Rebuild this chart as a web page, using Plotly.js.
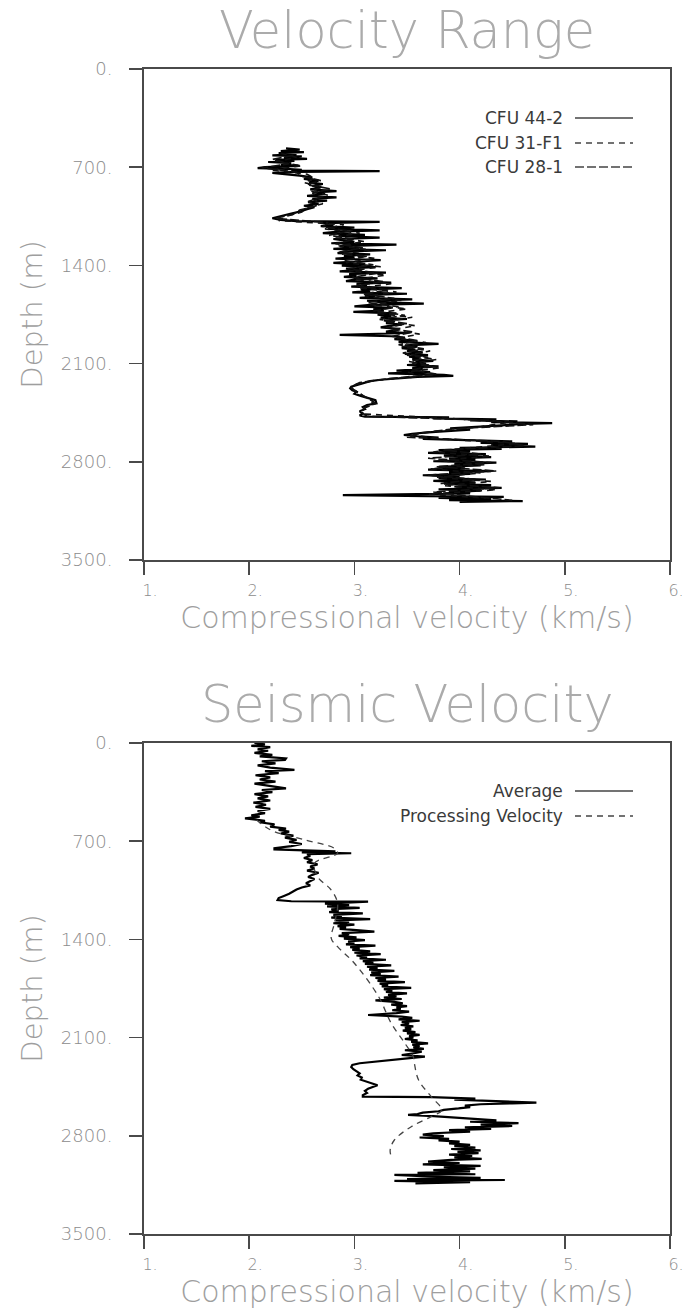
<!DOCTYPE html>
<html>
<head>
<meta charset="utf-8">
<script src="https://cdn.plot.ly/plotly-3.0.1.min.js"></script>
<style>html,body{margin:0;padding:0;background:#fff;}#chart{width:686px;height:1310px;}</style>
</head>
<body>
<div id="chart"></div>
<script>
// ---------- Data: top panel "Velocity Range" (depth m, velocity km/s) ----------
const cfu442Depth = [565,575,585,592,600,608,615,622,630,640,648,655,663,672,680,690,700,706,712,718,724,728,734,740,
 760,772,784,796,808,820,832,845,858,870,880,892,905,915,925,938,950,962,975,985,
 1000,1017,1030,1041,1055,1064,1075,1085,1090,1098,
 1110,1120,1130,1140,1150,1160,1170,1182,1192,1202,1212,1222,1232,1242,1252,1262,1272,1282,1292,1302,1312,1322,1332,1342,1352,1362,
 1372,1382,1392,1402,1412,1422,1432,1442,1452,1462,1472,1482,1492,1502,1512,1522,1532,1542,1552,1562,1572,1582,1592,1602,1612,1622,1632,1642,1652,1662,1672,1682,1692,1702,1712,1722,1732,1742,1752,1762,1772,1782,1792,1802,1812,1822,1832,1842,1852,1862,1872,1882,1895,
 1905,1915,1925,1935,1945,1960,1970,1980,1990,2000,2010,2020,2030,2040,2050,2060,2070,2080,2090,2100,2110,2120,2130,2140,2150,2160,2170,2180,2188,2195,
 2205,2215,2225,2235,2245,2255,2265,2276,2290,2300,2315,2330,2345,2360,2383,2395,2410,2425,2440,2455,2470,2478,
 2483,2490,2498,2505,2512,2518,2524,2530,
 2540,2550,2561,2570,2580,2590,2600,2609,2618,2628,2636,2645,
 2655,2665,2672,2680,2692,2700,2708,2716,
 2726,2736,2746,2756,2766,2776,2786,2796,2806,2816,2826,2836,2846,2856,2866,2876,2886,2896,2906,2916,2926,2936,2946,2956,2966,2976,2986,2996,3006,3016,3025,
 3030,3037,3044,3050,3058,3066,3074,3080,3085];
const cfu442Vel = [2.35,2.48,2.30,2.52,2.28,2.45,2.22,2.50,2.33,2.55,2.25,2.43,2.18,2.40,2.30,2.48,2.15,2.08,2.35,2.50,2.40,3.24,2.45,2.22,
 2.48,2.60,2.52,2.66,2.57,2.70,2.60,2.68,2.58,2.83,2.62,2.72,2.55,2.83,2.60,2.74,2.56,2.66,2.52,2.62,
 2.55,2.48,2.40,2.34,2.28,2.22,2.30,2.45,3.24,2.70,
 2.80,2.68,3.00,2.75,3.24,2.82,2.70,3.10,2.85,3.24,2.80,2.92,3.00,2.78,3.40,2.86,3.05,2.80,3.30,2.90,2.84,3.15,2.90,3.00,2.82,3.25,
 2.95,2.80,3.10,2.88,3.20,2.92,3.05,2.86,3.30,2.95,3.02,2.90,3.22,3.00,2.92,3.35,3.02,3.12,2.97,3.45,3.06,3.15,2.98,3.50,3.10,3.20,3.05,3.55,3.12,3.25,3.66,3.15,3.00,3.35,3.18,3.28,2.99,3.40,3.22,3.35,3.25,3.50,3.28,3.38,3.30,3.45,3.32,3.25,3.42,3.40,3.30,3.50,2.86,
 3.35,3.48,3.38,3.55,3.42,3.80,3.48,3.60,3.45,3.58,3.50,3.65,3.48,3.70,3.52,3.62,3.55,3.75,3.58,3.68,3.50,3.80,3.55,3.65,3.40,3.72,3.32,3.85,3.94,3.60,
 3.40,3.25,3.15,3.10,3.05,3.00,2.97,2.96,2.98,3.02,3.00,3.06,3.12,3.20,3.21,3.12,3.08,3.10,3.05,3.08,3.05,3.10,
 3.90,3.75,4.35,4.10,4.55,4.30,4.88,4.60,
 4.40,4.15,3.91,4.10,3.85,3.70,3.55,3.47,3.60,3.80,3.65,4.05,
 4.50,4.20,4.65,4.30,4.72,4.00,4.40,3.80,
 4.10,3.70,4.25,3.85,4.30,3.90,4.15,3.75,4.35,3.95,4.20,3.80,4.05,3.70,4.30,3.90,4.10,3.65,4.00,3.80,4.25,3.75,4.15,3.85,4.30,3.95,4.40,3.80,4.20,3.90,4.10,
 3.60,2.89,3.70,4.42,3.80,4.30,3.90,4.60,4.00];

const cfu31Depth = [600,630,660,690,720,750,780,810,840,870,
 900,930,960,990,1020,1050,1080,1110,1140,1170,
 1200,1230,1260,1290,1320,1350,1380,1410,1440,1470,
 1500,1530,1560,1590,1620,1650,1680,1710,1740,1770,
 1800,1830,1860,1890,1920,1950,1980,2010,2040,2070,
 2100,2130,2160,2190,2220,2250,2280,2310,2340,2370,
 2400,2430,2460,2490,2520,2550,2580,2610,2640,2670,
 2700,2730,2760,2790,2820,2850,2880,2910,2940,2970,
 3000,3030,3060];
const cfu31Vel = [2.30,2.45,2.25,2.50,2.20,2.55,2.62,2.52,2.70,2.58,
 2.75,2.60,2.70,2.55,2.50,2.35,2.28,2.90,2.72,3.05,
 2.80,3.10,2.85,3.15,2.88,3.20,2.92,3.25,2.95,3.30,
 3.00,3.35,3.05,3.40,3.10,3.45,3.15,3.50,3.20,3.55,
 3.28,3.58,3.35,3.62,3.40,3.68,3.45,3.72,3.50,3.78,
 3.55,3.82,3.50,3.65,3.20,3.00,2.98,3.05,3.10,3.18,
 3.12,3.08,3.10,3.90,4.45,4.20,3.80,3.52,3.90,4.55,
 4.10,3.75,4.30,3.80,4.25,3.72,4.20,3.78,4.30,3.85,
 4.35,3.70,4.25];

const cfu28Depth = [615,645,675,705,735,765,795,825,855,885,
 915,945,975,1005,1035,1065,1095,1125,1155,1185,
 1215,1245,1275,1305,1335,1365,1395,1425,1455,1485,
 1515,1545,1575,1605,1635,1665,1695,1725,1755,1785,
 1815,1845,1875,1905,1935,1965,1995,2025,2055,2085,
 2115,2145,2175,2205,2235,2265,2295,2325,2355,2385,
 2415,2445,2475,2505,2535,2565,2595,2625,2655,2685,
 2715,2745,2775,2805,2835,2865,2895,2925,2955,2985,
 3015,3045,3075];
const cfu28Vel = [2.42,2.22,2.38,2.12,2.45,2.50,2.68,2.55,2.78,2.60,
 2.68,2.56,2.64,2.48,2.42,2.25,2.75,2.70,2.95,2.76,
 3.00,2.82,3.08,2.86,3.12,2.90,3.18,2.94,3.22,2.98,
 3.28,3.02,3.32,3.08,3.38,3.12,3.42,3.18,3.48,3.24,
 3.50,3.30,3.56,3.36,3.60,3.42,3.66,3.46,3.70,3.52,
 3.74,3.55,3.78,3.35,3.05,2.97,3.00,3.08,3.15,3.20,
 3.10,3.06,3.12,4.30,4.70,3.95,3.62,3.50,4.40,4.62,
 3.85,4.20,3.70,4.30,3.78,4.35,3.70,4.15,3.82,4.38,
 3.75,4.10,4.50];

// ---------- Data: bottom panel "Seismic Velocity" ----------
const avgDepth = [0,10,20,30,45,55,70,85,95,110,121,130,145,160,175,192,200,215,230,245,260,275,290,305,323,335,350,365,380,395,410,425,440,455,470,485,500,515,525,537,545,555,565,580,596,610,620,632,645,660,675,691,705,720,735,750,758,765,772,779,786,793,805,820,835,850,865,880,895,910,925,940,955,970,985,1000,1015,1030,1045,1060,1075,1090,1105,1119,1128,1131,1138,1145,1155,1165,1175,1185,1195,1205,1215,1225,1235,1245,1255,
 1265,1275,1285,1295,1305,1315,1325,1335,1345,1355,1365,1375,1385,1395,1405,1415,1425,1435,1445,1455,1465,1475,1485,1495,1505,1515,1525,1535,1545,1555,1565,1575,1585,1595,1605,1615,1625,1635,1645,1655,1665,1675,1685,1695,1705,1715,1725,1735,1745,1755,1765,1775,1785,1795,1805,1815,1825,1835,
 1845,1855,1865,1875,1885,1895,1905,1915,1925,1939,1950,1960,1970,1980,1990,2000,2010,2020,2030,2040,2050,2060,2070,2080,2090,2100,2110,2120,2130,2141,2150,2160,2170,2180,2190,2200,2210,2224,2236,2245,2255,2265,2275,2283,2295,2310,2325,2340,2355,2370,2385,2400,2415,2430,2440,2450,2465,2480,2495,2510,2521,
 2524,2530,2535,2542,2550,2557,2563,2569,2575,2585,2595,2605,2615,2625,2635,2645,2651,2660,2670,2680,2690,2700,2710,2720,2730,2740,2750,2760,2770,2782,2792,2802,2812,2822,2832,2842,2854,2864,2874,2884,2894,2904,2914,2924,2934,2944,2954,2964,2972,2984,2994,3004,3014,3024,3034,3044,3054,3064,3074,3079,3090,3100,3108,3115,3122,3130,3139];
const avgVel = [2.05,2.15,2.02,2.20,2.08,2.18,2.05,2.22,2.10,2.35,2.34,2.12,2.25,2.08,2.20,2.43,2.15,2.28,2.06,2.20,2.10,2.25,2.05,2.18,2.35,2.12,2.22,2.05,2.18,2.08,2.20,2.04,2.16,2.06,2.20,2.08,2.15,2.02,2.10,1.96,2.05,2.15,2.10,2.24,2.20,2.35,2.28,2.38,2.30,2.42,2.34,2.45,2.38,2.50,2.40,2.24,2.24,2.55,2.82,2.50,2.97,2.55,2.58,2.52,2.60,2.55,2.65,2.58,2.62,2.55,2.66,2.60,2.56,2.62,2.58,2.54,2.58,2.50,2.45,2.42,2.38,2.33,2.28,2.27,2.40,3.13,2.80,2.72,2.95,2.74,3.05,2.78,2.85,2.76,3.08,2.80,2.88,2.78,3.15,
 2.82,2.95,2.80,3.00,2.84,2.92,2.86,3.05,3.19,2.88,2.95,2.85,3.02,2.90,3.10,2.94,3.00,2.92,3.20,2.96,3.05,2.98,3.15,3.00,3.25,3.02,3.12,3.05,3.30,3.08,3.18,3.10,3.35,3.12,3.22,3.14,3.38,3.16,3.25,3.15,3.42,3.20,3.30,3.22,3.48,3.24,3.32,3.26,3.54,3.28,3.36,3.30,3.50,3.32,3.40,3.28,3.45,3.20,
 3.38,3.46,3.35,3.50,3.40,3.44,3.36,3.52,3.40,3.13,3.45,3.55,3.42,3.62,3.45,3.52,3.44,3.56,3.48,3.54,3.46,3.58,3.50,3.62,3.52,3.56,3.48,3.60,3.54,3.70,3.55,3.62,3.56,3.66,3.48,3.64,3.58,3.45,3.67,3.55,3.42,3.25,3.10,3.05,2.98,2.97,2.99,3.02,3.05,3.03,3.07,3.06,3.12,3.18,3.22,3.18,3.13,3.10,3.12,3.08,3.08,
 3.73,3.90,4.15,3.95,4.30,4.46,4.73,4.50,4.20,4.05,4.10,3.99,3.85,3.80,3.65,3.60,3.51,3.75,3.95,4.20,4.35,4.10,4.56,4.20,4.50,4.05,4.30,3.90,4.10,3.75,3.65,3.85,3.62,3.90,3.80,4.00,3.90,4.10,3.95,4.15,3.92,4.20,3.98,4.18,3.90,4.12,3.95,4.21,3.92,3.70,4.00,3.65,4.20,3.85,4.15,3.75,4.10,3.60,4.15,3.38,3.70,4.20,3.50,4.43,3.38,4.10,3.58];

const procDepth = [549,596,632,691,751,786,858,953,1048,1143,1285,1392,1452,1570,1808,1998,2141,2236,2283,2402,2521,2616,2663,2735,2830,2901,2949];
const procVel = [2.07,2.15,2.24,2.53,2.81,2.84,2.62,2.65,2.78,2.84,2.81,2.78,2.84,3.00,3.23,3.35,3.48,3.56,3.57,3.61,3.73,3.83,3.73,3.54,3.38,3.34,3.35];

// ---------- Axis ticks ----------
const xTickVals = [1,2,3,4,5,6];
const xTickText = ["1.","2.","3.","4.","5.","6."];
const yTickVals = [0,700,1400,2100,2800,3500];
const yTickText = ["0.","700.","1400.","2100.","2800.","3500."];

const titleTop = "Velocity Range";
const titleBottom = "Seismic Velocity";
const xTitle = "Compressional velocity (km/s)";
const yTitle = "Depth (m)";
const legendTop = ["CFU 44-2","CFU 31-F1","CFU 28-1"];
const legendBottom = ["Average","Processing Velocity"];

// ---------- Styles ----------
const thinFont = "DejaVu Sans, sans-serif";
const grayText = "#9e9e9e";
const tickGray = "#8c8c8c";
const axisCol = "#4a4a4a";
const legFont = {family:"DejaVu Sans, sans-serif", size:17, color:"#3a3a3a"};

const traces = [
  {x:cfu442Vel, y:cfu442Depth, type:"scatter", mode:"lines", name:legendTop[0], xaxis:"x", yaxis:"y",
   line:{color:"#000", width:2.2, dash:"solid"}, showlegend:false, hoverinfo:"skip"},
  {x:cfu31Vel, y:cfu31Depth, type:"scatter", mode:"lines", name:legendTop[1], xaxis:"x", yaxis:"y",
   line:{color:"#111", width:1.6, dash:"6px,5px"}, showlegend:false, hoverinfo:"skip"},
  {x:cfu28Vel, y:cfu28Depth, type:"scatter", mode:"lines", name:legendTop[2], xaxis:"x", yaxis:"y",
   line:{color:"#111", width:1.6, dash:"9px,3px"}, showlegend:false, hoverinfo:"skip"},
  {x:avgVel, y:avgDepth, type:"scatter", mode:"lines", name:legendBottom[0], xaxis:"x2", yaxis:"y2",
   line:{color:"#000", width:2.2}, showlegend:false, hoverinfo:"skip"},
  {x:procVel, y:procDepth, type:"scatter", mode:"lines", name:legendBottom[1], xaxis:"x2", yaxis:"y2",
   line:{color:"#444", width:1.3, dash:"6px,5px", shape:"spline"}, showlegend:false, hoverinfo:"skip"}
];

function xAxis(anchor){
  return {domain:[144/686, 670/686], anchor:anchor, range:[1,6], tickvals:xTickVals, ticktext:xTickText,
    showline:true, mirror:true, linecolor:axisCol, linewidth:2, ticks:"outside", ticklen:13, tickwidth:1.5, tickcolor:axisCol,
    showgrid:false, zeroline:false, ticklabelstandoff:2, ticklabelshift:6,
    tickfont:{family:thinFont, size:16, weight:200, color:tickGray},
    title:{text:xTitle, font:{family:thinFont, size:30, weight:200, color:grayText}, standoff:7}};
}
function yAxis(anchor, dom){
  return {domain:dom, anchor:anchor, range:[3500,0], tickvals:yTickVals, ticktext:yTickText,
    showline:true, mirror:true, linecolor:axisCol, linewidth:2, ticks:"outside", ticklen:13, tickwidth:1.5, tickcolor:axisCol,
    showgrid:false, zeroline:false, ticklabelstandoff:13,
    tickfont:{family:thinFont, size:18, weight:200, color:tickGray},
    title:{text:yTitle, font:{family:thinFont, size:29, weight:200, color:grayText}, standoff:10}};
}

const legRowsTop = [118,143,167];
const legRowsBot = [791,816];
const dashes = ["solid","6px,5px","9px,3px"];
const annotations = [
  {text:titleBottom, xref:"paper", yref:"paper", x:407/686, y:1-705/1310, xanchor:"center", yanchor:"middle",
   showarrow:false, font:{family:thinFont, size:51, weight:200, color:"#ababab"}}
];
const shapes = [];
legendTop.forEach((t,i)=>{
  annotations.push({text:t, xref:"paper", yref:"paper", x:565/686, y:1-legRowsTop[i]/1310, xanchor:"right", yanchor:"middle", showarrow:false, font:legFont});
  shapes.push({type:"line", xref:"paper", yref:"paper", x0:575/686, x1:633/686, y0:1-legRowsTop[i]/1310, y1:1-legRowsTop[i]/1310,
    line:{color:"#444", width:1.5, dash:dashes[i]}});
});
legendBottom.forEach((t,i)=>{
  annotations.push({text:t, xref:"paper", yref:"paper", x:565/686, y:1-legRowsBot[i]/1310, xanchor:"right", yanchor:"middle", showarrow:false, font:legFont});
  shapes.push({type:"line", xref:"paper", yref:"paper", x0:575/686, x1:633/686, y0:1-legRowsBot[i]/1310, y1:1-legRowsBot[i]/1310,
    line:{color:"#444", width:1.5, dash:dashes[i]}});
});

const layout = {
  width:686, height:1310, margin:{l:0,r:0,t:0,b:0}, paper_bgcolor:"#fff", plot_bgcolor:"#fff",
  title:{text:titleTop, x:407/686, xanchor:"center", y:1-30/1310, yanchor:"middle", font:{family:thinFont, size:51, weight:200, color:"#ababab"}},
  xaxis:xAxis("y"), yaxis:yAxis("x", [1-560/1310, 1-69/1310]),
  xaxis2:xAxis("y2"), yaxis2:yAxis("x2", [1-1234/1310, 1-743/1310]),
  annotations:annotations, shapes:shapes, hovermode:false, showlegend:false
};

Plotly.newPlot("chart", traces, layout, {displayModeBar:false, staticPlot:true});
</script>
</body>
</html>
